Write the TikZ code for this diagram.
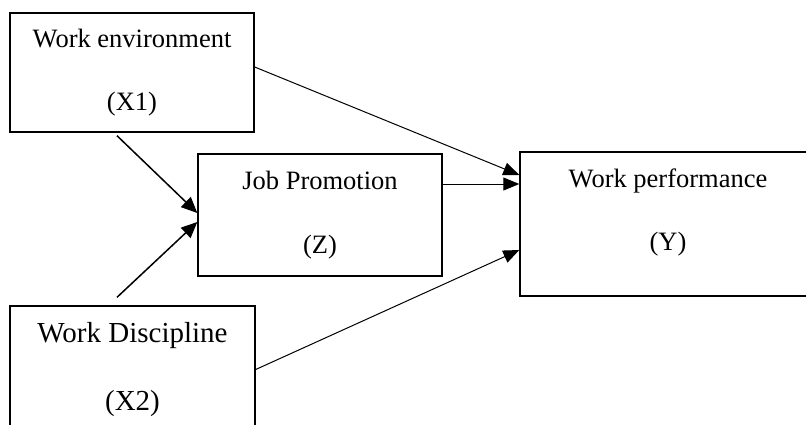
\documentclass[tikz,border=0pt]{standalone}
\usepackage{fontspec}
\setmainfont{Liberation Serif}
\usetikzlibrary{arrows.meta}

\tikzset{
  varbox/.style={draw, line width=1.4pt, align=center, inner sep=0pt,
    font=\fontsize{26.5}{32}\selectfont},
  vartext/.style={align=center, inner sep=0pt, font=\fontsize{26.5}{32}\selectfont},
  thinarr/.style={line width=1pt, -{Triangle[length=16pt,width=13pt]}},
  thickarr/.style={line width=1.5pt, -{Triangle[length=16pt,width=14pt]}}
}

\begin{document}
\begin{tikzpicture}[x=1pt,y=-1pt]
\useasboundingbox (0,0) rectangle (806,424);

% variables
\node[varbox, minimum width=244pt, minimum height=119pt] (env) at (132,72.5)
  {Work environment\\[31pt](X1)};
\node[varbox, minimum width=245pt, minimum height=127pt,
  font=\fontsize{29}{35}\selectfont] (disc) at (132.5,369.5)
  {Work Discipline\\[33pt](X2)};
\node[varbox, minimum width=244pt, minimum height=122pt] (prom) at (320,215)
  {Job Promotion\\[32pt](Z)};
\node[varbox, minimum width=296pt, minimum height=144pt] (perf) at (668,224) {};
\node[vartext] (perftext) at (668,212) {Work performance\\[31pt](Y)};

% paths to job promotion
\draw[thickarr] ([xshift=-15pt,yshift=-3pt]env.south) -- ([yshift=2pt]prom.west);
\draw[thickarr] ([xshift=-15.5pt,yshift=8pt]disc.north) -- ([yshift=-7pt]prom.west);

% paths to work performance
\draw[thinarr] ([yshift=5.5pt]env.east) -- ([yshift=49pt]perf.west);
\draw[thinarr] ([yshift=31pt]prom.east) -- ([yshift=31pt]prom.east -| perf.west);
\draw[thinarr] (disc.east) -- ([yshift=-26pt]perf.west);

\end{tikzpicture}
\end{document}
